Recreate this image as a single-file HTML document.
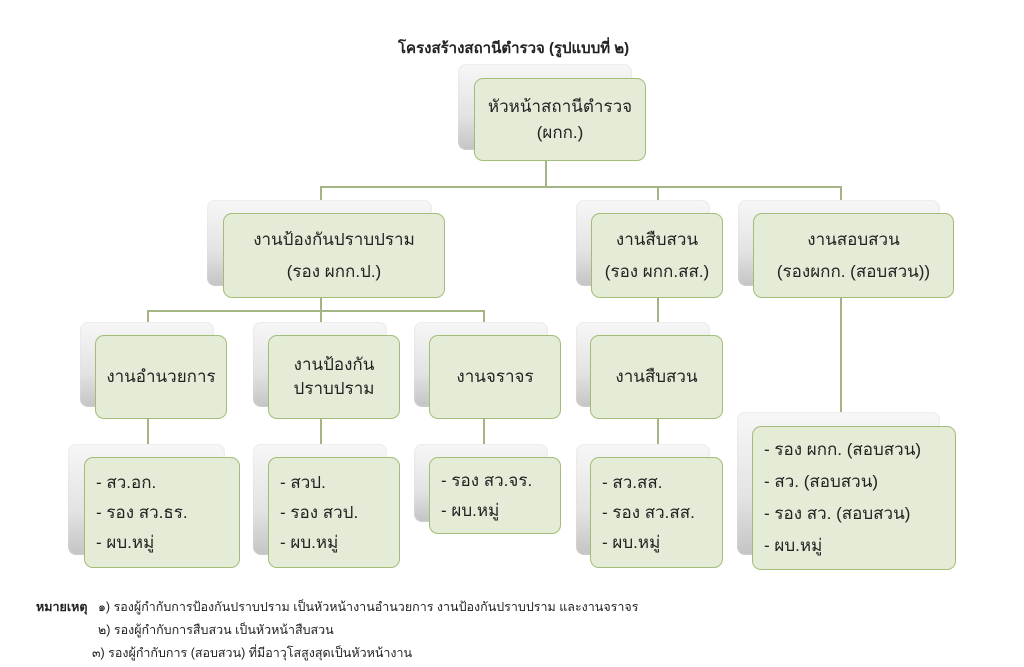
<!DOCTYPE html>
<html><head><meta charset="utf-8"><style>
body{margin:0;width:1024px;height:667px;background:#fff;position:relative;overflow:hidden;font-family:"Liberation Sans",sans-serif;color:#222}
.s{position:absolute;border-radius:8px;background:linear-gradient(180deg,#f7f7f7 0%,#e3e3e3 60%,#c4c4c4 100%);box-shadow:inset 0 0 2px #ddd}
.g{position:absolute;border-radius:9px;background:#e4ebd6;border:1.5px solid #a3bd78;box-sizing:border-box;display:flex;flex-direction:column;justify-content:center;align-items:center;font-size:17px;line-height:30px;text-align:center}
.l{align-items:flex-start;padding-left:11px;text-align:left}
.h{position:absolute;height:1.5px;background:#a3b584}
.v{position:absolute;width:1.5px;background:#a3b584}
.t{position:absolute;font-size:12.5px;white-space:nowrap}
</style></head><body>
<div class="t" style="left:398px;top:36px;font-size:15px;font-weight:bold">โครงสร้างสถานีตำรวจ (รูปแบบที่ ๒)</div>

<div class="v" style="left:545px;top:160px;height:26px"></div>
<div class="h" style="left:320px;top:186px;width:521px"></div>
<div class="v" style="left:320px;top:186px;height:27px"></div>
<div class="v" style="left:657px;top:186px;height:27px"></div>
<div class="v" style="left:840px;top:186px;height:27px"></div>
<div class="v" style="left:320px;top:297px;height:13px"></div>
<div class="h" style="left:147px;top:310px;width:337px"></div>
<div class="v" style="left:147px;top:310px;height:25px"></div>
<div class="v" style="left:320px;top:310px;height:25px"></div>
<div class="v" style="left:483px;top:310px;height:25px"></div>
<div class="v" style="left:657px;top:297px;height:38px"></div>
<div class="v" style="left:147px;top:418px;height:39px"></div>
<div class="v" style="left:320px;top:418px;height:39px"></div>
<div class="v" style="left:483px;top:418px;height:39px"></div>
<div class="v" style="left:657px;top:418px;height:39px"></div>
<div class="v" style="left:840px;top:297px;height:129px"></div>

<div class="s" style="left:458px;top:64px;width:174px;height:86px"></div>
<div class="g" style="left:474px;top:78px;width:172px;height:83px;line-height:26px"><div>หัวหน้าสถานีตำรวจ</div><div>(ผกก.)</div></div>

<div class="s" style="left:207px;top:200px;width:225px;height:86px"></div>
<div class="g" style="left:223px;top:213px;width:222px;height:85px;line-height:32px"><div>งานป้องกันปราบปราม</div><div>(รอง ผกก.ป.)</div></div>
<div class="s" style="left:576px;top:200px;width:134px;height:86px"></div>
<div class="g" style="left:591px;top:213px;width:132px;height:85px;line-height:32px"><div>งานสืบสวน</div><div>(รอง ผกก.สส.)</div></div>
<div class="s" style="left:738px;top:200px;width:202px;height:86px"></div>
<div class="g" style="left:753px;top:213px;width:201px;height:85px;line-height:32px"><div>งานสอบสวน</div><div>(รองผกก. (สอบสวน))</div></div>

<div class="s" style="left:80px;top:322px;width:134px;height:85px"></div>
<div class="g" style="left:95px;top:335px;width:132px;height:84px">งานอำนวยการ</div>
<div class="s" style="left:253px;top:322px;width:134px;height:85px"></div>
<div class="g" style="left:268px;top:335px;width:132px;height:84px;line-height:24px"><div>งานป้องกัน</div><div>ปราบปราม</div></div>
<div class="s" style="left:414px;top:322px;width:134px;height:85px"></div>
<div class="g" style="left:429px;top:335px;width:132px;height:84px">งานจราจร</div>
<div class="s" style="left:576px;top:322px;width:134px;height:85px"></div>
<div class="g" style="left:590px;top:335px;width:133px;height:84px">งานสืบสวน</div>

<div class="s" style="left:68px;top:444px;width:157px;height:111px"></div>
<div class="g l" style="left:84px;top:457px;width:156px;height:111px"><div>- สว.อก.</div><div>- รอง สว.ธร.</div><div>- ผบ.หมู่</div></div>
<div class="s" style="left:253px;top:444px;width:134px;height:111px"></div>
<div class="g l" style="left:268px;top:457px;width:132px;height:111px"><div>- สวป.</div><div>- รอง สวป.</div><div>- ผบ.หมู่</div></div>
<div class="s" style="left:414px;top:444px;width:134px;height:78px"></div>
<div class="g l" style="left:429px;top:457px;width:132px;height:77px"><div>- รอง สว.จร.</div><div>- ผบ.หมู่</div></div>
<div class="s" style="left:576px;top:444px;width:134px;height:111px"></div>
<div class="g l" style="left:590px;top:457px;width:133px;height:111px"><div>- สว.สส.</div><div>- รอง สว.สส.</div><div>- ผบ.หมู่</div></div>
<div class="s" style="left:737px;top:412px;width:203px;height:143px"></div>
<div class="g l" style="left:752px;top:426px;width:204px;height:144px;line-height:32px"><div>- รอง ผกก. (สอบสวน)</div><div>- สว. (สอบสวน)</div><div>- รอง สว. (สอบสวน)</div><div>- ผบ.หมู่</div></div>

<div class="t" style="left:36px;top:597px;font-weight:bold">หมายเหตุ</div>
<div class="t" style="left:98px;top:597px">๑) รองผู้กำกับการป้องกันปราบปราม เป็นหัวหน้างานอำนวยการ งานป้องกันปราบปราม และงานจราจร</div>
<div class="t" style="left:98px;top:620px">๒) รองผู้กำกับการสืบสวน เป็นหัวหน้าสืบสวน</div>
<div class="t" style="left:92px;top:643px">๓) รองผู้กำกับการ (สอบสวน) ที่มีอาวุโสสูงสุดเป็นหัวหน้างาน</div>
</body></html>
